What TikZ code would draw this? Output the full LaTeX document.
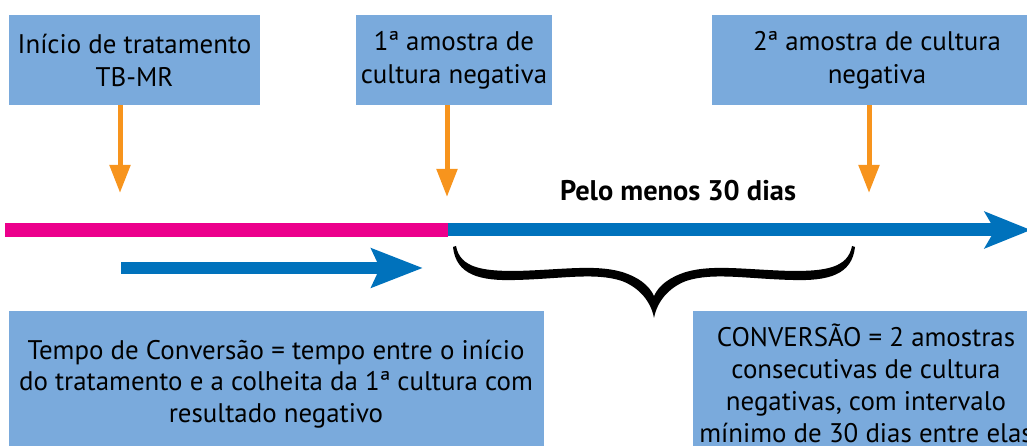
\documentclass[tikz,border=0pt]{standalone}
\usepackage{fontspec}
\setmainfont{PT Sans}
\usetikzlibrary{arrows.meta}
\definecolor{boxblue}{HTML}{7AAADC}
\definecolor{orng}{HTML}{F7941D}
\definecolor{pink}{HTML}{EC008C}
\definecolor{tlblue}{HTML}{0072BC}
\tikzset{
  box/.style={fill=boxblue, inner sep=0pt, align=center, font=\fontsize{27}{33}\selectfont, text=black},
  btext/.style={align=center, inner sep=0pt, text=black},
  oarrow/.style={draw=orng, line width=5bp, -{Triangle[width=20bp,length=28bp]}},
}
\begin{document}
\begin{tikzpicture}[x=1bp,y=-1bp]
\useasboundingbox (0,0) rectangle (1027,446);
\clip (0,0) rectangle (1027,446);
% top boxes
\node[box, minimum width=251bp, minimum height=90bp] (b1) at (134.5,60) {Início de tratamento\\TB-MR};
\node[box, minimum width=196bp, minimum height=90bp] (b2) at (454,60) {1ª amostra de\\cultura negativa};
\node[box, minimum width=330bp, minimum height=90bp] (b3) at (877,60) {2ª amostra de cultura\\negativa};
% arrow tips
\coordinate (t1) at (120,193);
\coordinate (t2) at (447,197);
\coordinate (t3) at (869,193);
\draw[oarrow] (b1.south -| t1) -- (t1);
\draw[oarrow] (b2.south -| t2) -- (t2);
\draw[oarrow] (b3.south -| t3) -- (t3);
% timeline
\coordinate (tlA) at (5,230);
\coordinate (tlM) at (448,230);
\coordinate (tlE) at (1031,230);
\draw[draw=pink, line width=14bp] (tlA) -- (tlM);
\draw[draw=tlblue, line width=13bp, -{Stealth[width=36bp,length=46bp,inset=10bp]}] (tlM) -- (tlE);
% small arrow
\coordinate (sA) at (121,268);
\coordinate (sE) at (423,268);
\draw[draw=tlblue, line width=12bp, -{Stealth[width=38bp,length=51bp,inset=8bp]}] (sA) -- (sE);
% label
\node[btext, font=\fontsize{28.5}{30}\selectfont\bfseries] (pelo) at (678,191) {Pelo menos 30 dias};
% brace
\fill[black] (453,247) .. controls (456,275) and (480,281) .. (515,280)
  .. controls (560,279) and (595,272) .. (622,281)
  .. controls (640,288) and (651,302) .. (654,318)
  .. controls (657,302) and (668,288) .. (686,281)
  .. controls (713,272) and (748,279) .. (793,280)
  .. controls (828,281) and (852,275) .. (855,247)
  -- (852,246)
  .. controls (848,268) and (825,271) .. (793,271)
  .. controls (748,270) and (713,264) .. (686,272)
  .. controls (670,277) and (659,285) .. (654,296)
  .. controls (649,285) and (638,277) .. (622,272)
  .. controls (595,264) and (560,270) .. (515,271)
  .. controls (483,271) and (460,268) .. (456,246) -- cycle;
% bottom boxes
\node[box, minimum width=535bp, minimum height=140bp, anchor=north west] (b4) at (9,311) {};
\node[box, minimum width=340bp, minimum height=140bp, anchor=north west] (b5) at (693,311) {};
\node[btext, font=\fontsize{27}{31.5}\selectfont] (t4) at (276,384) {Tempo de Conversão = tempo entre o início\\do tratamento e a colheita da 1ª cultura com\\resultado negativo};
\node[btext, font=\fontsize{27}{32}\selectfont] (t5) at (866,383.5) {CONVERSÃO = 2 amostras\\consecutivas de cultura\\negativas, com intervalo\\mínimo de 30 dias entre elas};
\end{tikzpicture}
\end{document}
